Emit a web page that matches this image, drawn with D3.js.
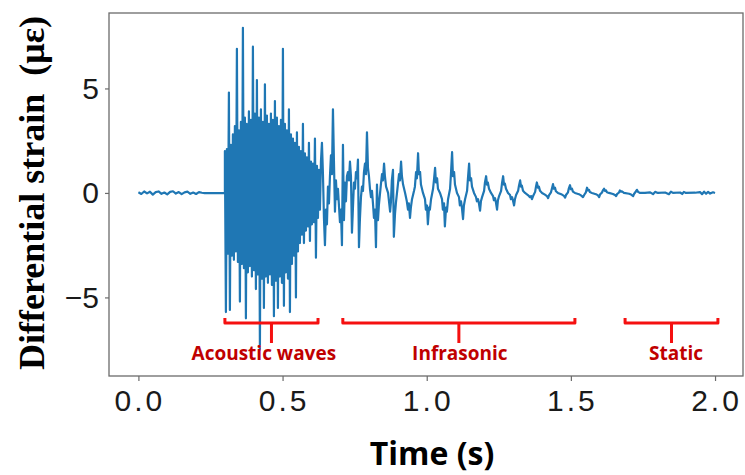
<!DOCTYPE html>
<html>
<head>
<meta charset="utf-8">
<script src="https://cdn.jsdelivr.net/npm/d3@7"></script>
<style>
  body { margin: 0; background: #fff; }
</style>
</head>
<body>
<div class="box"></div>
<script>
// ---- donnees ----

// bruit avant l'evenement [temps (s), deformation (µε)]
const quiet = [
  [0.000, 0.03], [0.010, -0.05], [0.020, 0.07], [0.030, -0.02], [0.040, 0.06],
  [0.050, -0.08], [0.060, 0.04], [0.070, 0.07], [0.080, -0.04], [0.090, 0.02],
  [0.100, -0.07], [0.110, 0.05], [0.120, 0.08], [0.130, -0.03], [0.140, 0.04],
  [0.150, -0.06], [0.160, 0.03], [0.170, 0.06], [0.180, -0.04], [0.190, 0.02],
  [0.200, -0.05], [0.210, 0.04], [0.220, 0.01], [0.230, -0.01], [0.300, 0.00]
];

// salve acoustique echantillonnee a pas constant
const burstStart = 0.300;
const burstStep = 0.00347;
const burstStrain = [
  2.0, -5.7, 2.1, -2.9, 4.8, -5.6, 2.3, -3.0, 2.8, -3.2,
  3.2, -2.8, 6.9, -3.3, 3.0, -5.2, 3.4, -3.4, 7.9, -3.6,
  3.6, -6.0, 3.3, -3.8, 3.9, -3.5, 3.5, -4.0, 7.0, -3.7,
  3.8, -4.6, 5.4, -3.9, 3.6, -7.5, 4.0, -4.1, 3.4, -5.5,
  5.2, -4.0, 3.7, -4.3, 3.3, -3.9, 3.8, -4.4, 3.5, -5.9,
  4.4, -4.2, 3.6, -5.5, 3.2, -4.0, 3.5, -4.3, 6.9, -5.4,
  3.3, -3.8, 3.0, -4.1, 4.0, -5.7, 2.8, -3.4, 2.6, -3.0,
  2.4, -5.0, 2.9, -2.8, 2.2, -2.4, 2.0, -2.0, 3.3, -2.4,
  1.9, -1.8, 1.7, -1.6, 2.4, -2.3, 1.5, -1.5, 1.4, -1.4,
  2.6, -3.1, 1.3, -1.2, 1.1,
  -0.8, 1.5, 2.4, 0.9, -1.2, -2.5, -0.8, -1.5, 0.3, -0.5,
  0.8, 1.8, 0.9, 4.0, 1.5, -0.9, 0.6, -0.3, 0.2, -0.6,
  -1.4, -0.8, -2.5, 2.3, -1.3, 0.5, -0.4, 0.8, 1.0, 0.6,
  1.5, 0.8, -1.9, -0.7, 0.5, 0.2, 1.0, 0.7, 1.6, -2.6,
  -1.2, -0.2, 0.3, 0.1, 1.0, 1.4, 0.9, 2.9, 1.2, 0.8,
  0.2, -0.2, 0.1, -0.5, -1.2, -0.8, -2.6, 0.4, -1.3
];

// oscillations infrasonores puis statique [temps (s), deformation (µε)]
const decay = [
  [0.834, -0.6], [0.841, 0.4], [0.845, 0.9], [0.848, 0.6], [0.852, 1.4], [0.855, 0.8],
  [0.859, 0.3], [0.866, 0.0], [0.873, -0.9], [0.876, -0.4], [0.879, 0.6], [0.883, 1.1],
  [0.886, -2.1], [0.890, -1.0], [0.893, -0.5], [0.900, 0.4], [0.904, 0.9], [0.907, 0.6],
  [0.911, 1.5], [0.914, 0.8], [0.918, 0.4], [0.925, 0.0], [0.931, -0.4], [0.935, -0.8],
  [0.938, -0.5], [0.942, -1.2], [0.945, -0.7], [0.949, -0.3], [0.956, 0.1], [0.959, 0.3],
  [0.963, 1.0], [0.966, 0.7], [0.970, 1.9], [0.973, 0.9], [0.977, 1.0], [0.980, 0.4],
  [0.987, 0.0], [0.994, -0.3], [0.997, -0.8], [1.001, -0.6], [1.004, -1.5], [1.008, -0.7],
  [1.011, -0.8], [1.015, -0.3], [1.022, 0.2], [1.025, 0.6], [1.029, 1.2], [1.032, 0.5],
  [1.036, 0.7], [1.039, 0.2], [1.046, 0.0], [1.053, -0.3], [1.056, -0.8], [1.060, -0.5],
  [1.063, -1.6], [1.067, -0.7], [1.070, -0.9], [1.074, -0.3], [1.081, 0.2], [1.084, 0.9],
  [1.088, 1.95], [1.091, 0.8], [1.095, 1.0], [1.098, 0.4], [1.105, 0.0], [1.112, -0.2],
  [1.115, -0.6], [1.119, -0.4], [1.122, -0.7], [1.126, -1.25], [1.129, -0.6], [1.133, -0.3],
  [1.140, 0.1], [1.143, 0.7], [1.147, 1.4], [1.150, 0.6], [1.154, 0.7], [1.157, 0.3],
  [1.164, 0.0], [1.171, -0.2], [1.174, -0.4], [1.178, -0.3], [1.181, -0.5], [1.185, -0.85],
  [1.188, -0.4], [1.192, -0.2], [1.199, 0.1], [1.202, 0.5], [1.206, 0.8], [1.209, 0.4],
  [1.212, 0.5], [1.216, 0.2], [1.223, 0.0], [1.230, -0.15], [1.233, -0.35], [1.237, -0.25],
  [1.240, -0.45], [1.244, -0.8], [1.247, -0.35], [1.251, -0.15], [1.258, 0.1], [1.261, 0.45],
  [1.265, 0.8], [1.268, 0.4], [1.271, 0.45], [1.275, 0.2], [1.282, 0.0], [1.289, -0.1],
  [1.292, -0.3], [1.296, -0.2], [1.299, -0.35], [1.303, -0.6], [1.306, -0.3], [1.310, -0.1],
  [1.317, 0.1], [1.320, 0.35], [1.324, 0.6], [1.327, 0.3], [1.330, 0.35], [1.334, 0.1],
  [1.341, 0.0], [1.351, -0.1], [1.358, -0.2], [1.362, -0.15], [1.365, -0.3], [1.369, -0.15],
  [1.376, 0.05], [1.379, 0.3], [1.382, 0.5], [1.386, 0.25], [1.389, 0.3], [1.393, 0.1],
  [1.400, 0.0], [1.410, -0.08], [1.417, -0.15], [1.421, -0.25], [1.424, -0.12], [1.431, 0.03],
  [1.435, 0.25], [1.438, 0.42], [1.441, 0.2], [1.445, 0.25], [1.448, 0.08], [1.455, 0.0],
  [1.469, -0.08], [1.476, -0.14], [1.480, -0.22], [1.483, -0.1], [1.490, 0.03], [1.493, 0.22],
  [1.497, 0.37], [1.500, 0.18], [1.504, 0.2], [1.507, 0.06], [1.514, 0.0], [1.528, -0.06],
  [1.535, -0.12], [1.542, -0.2], [1.546, -0.1], [1.552, 0.03], [1.556, 0.25], [1.559, 0.12],
  [1.563, 0.15], [1.566, 0.04], [1.573, 0.0], [1.587, -0.06], [1.594, -0.12], [1.598, -0.2],
  [1.601, -0.08], [1.608, 0.02], [1.611, 0.12], [1.615, 0.2], [1.618, 0.1], [1.622, 0.12],
  [1.625, 0.03], [1.632, 0.0], [1.646, -0.05], [1.653, -0.1], [1.657, -0.15], [1.660, -0.06],
  [1.667, 0.02], [1.670, 0.12], [1.674, 0.06], [1.677, 0.08], [1.684, 0.0], [1.702, -0.04],
  [1.709, -0.08], [1.716, -0.15], [1.719, -0.05], [1.726, 0.08], [1.729, 0.15], [1.733, 0.05],
  [1.740, 0.0], [1.757, 0.0], [1.775, 0.03], [1.785, -0.06], [1.792, 0.05], [1.802, 0.0],
  [1.827, 0.02], [1.840, -0.06], [1.847, 0.06], [1.854, 0.0], [1.879, 0.02], [1.886, -0.05],
  [1.892, 0.05], [1.899, 0.0], [1.931, 0.01], [1.948, 0.04], [1.955, -0.06], [1.962, 0.06],
  [1.969, -0.04], [1.976, 0.05], [1.983, -0.03], [1.993, 0.03], [2.000, 0.0]
];

const xTicks = [0, 0.5, 1.0, 1.5, 2.0];
const yTicks = [-5, 0, 5];

// phases annotees sous la courbe
const phases = [
  {label: 'Acoustic waves', from: 0.300, to: 0.623, labelAt: 0.435},
  {label: 'Infrasonic', from: 0.709, to: 1.514, labelAt: 1.115},
  {label: 'Static', from: 1.688, to: 2.010, labelAt: 1.865}
];

// ---- mise en page ----
const dims = {width: 745, height: 475, left: 109, top: 13, plotW: 634, plotH: 363};

const svg = d3.select('.box')
              .append('svg')
              .attr('width', dims.width)
              .attr('height', dims.height);

const graph = svg.append('g')
                 .attr('transform', `translate(${dims.left}, ${dims.top})`);

const x = d3.scaleLinear().domain([-0.102, 2.097]).range([0, dims.plotW]);
const y = d3.scaleLinear().domain([-8.76, 8.61]).range([dims.plotH, 0]);

// signal complet
const signal = [
  ...quiet.map(d => ({t: d[0], v: d[1]})),
  ...burstStrain.map((v, i) => ({t: burstStart + i * burstStep, v: v})),
  ...decay.map(d => ({t: d[0], v: d[1]}))
];

const line = d3.line()
               .x(d => x(d.t))
               .y(d => y(d.v));

graph.append('path')
     .datum(signal)
     .attr('d', line)
     .attr('fill', 'none')
     .attr('stroke', '#1f77b4')
     .attr('stroke-width', 2.2)
     .attr('stroke-linejoin', 'round');

// axes
const axisColor = '#6b6b6b';

const xAxis = graph.append('g')
                   .attr('transform', `translate(0, ${dims.plotH})`)
                   .call(d3.axisBottom(x)
                           .tickValues(xTicks)
                           .tickFormat(d3.format('.1f'))
                           .tickSize(5)
                           .tickPadding(9));

const yAxis = graph.append('g')
                   .call(d3.axisLeft(y)
                           .tickValues(yTicks)
                           .tickFormat(d3.format('d'))
                           .tickSize(4)
                           .tickPadding(6));

[xAxis, yAxis].forEach(a => {
  a.select('.domain').remove();
  a.selectAll('.tick line').attr('stroke', axisColor).attr('stroke-width', 1.2);
  a.selectAll('.tick text')
   .attr('fill', '#1a1a1a')
   .style('font-family', '"Liberation Sans", Arial, sans-serif')
   .style('font-size', '30px');
});

xAxis.selectAll('.tick text')
     .style('letter-spacing', '3px')
     .attr('dx', 1);

// cadre
graph.append('rect')
     .attr('width', dims.plotW)
     .attr('height', dims.plotH)
     .attr('fill', 'none')
     .attr('stroke', axisColor)
     .attr('stroke-width', 1.3);

// accolades rouges
const bracketTop = -5.98, bracketLine = -6.22, stemEnd = -7.18, labelBase = -7.99;

phases.forEach(p => {
  const mid = (p.from + p.to) / 2;
  graph.append('path')
       .attr('d', `M${x(p.from)},${y(bracketTop)} L${x(p.from)},${y(bracketLine)} L${x(p.to)},${y(bracketLine)} L${x(p.to)},${y(bracketTop)} M${x(mid)},${y(bracketLine)} L${x(mid)},${y(stemEnd)}`)
       .attr('fill', 'none')
       .attr('stroke', '#f51010')
       .attr('stroke-width', 3)
       .attr('stroke-linejoin', 'round');

  graph.append('text')
       .attr('x', x(p.labelAt))
       .attr('y', y(labelBase))
       .attr('text-anchor', 'middle')
       .attr('fill', '#c00000')
       .style('font-family', '"Open Sans", sans-serif')
       .style('font-weight', 'bold')
       .style('font-size', '19px')
       .text(p.label);
});

// titres des axes
svg.append('text')
   .attr('transform', `translate(44, 193) rotate(-90)`)
   .attr('text-anchor', 'middle')
   .attr('fill', '#000')
   .style('font-family', '"Liberation Serif", "Times New Roman", serif')
   .style('font-weight', 'bold')
   .style('font-size', '36px')
   .style('white-space', 'pre')
   .text('Differential strain  (με)');

svg.append('text')
   .attr('x', 432)
   .attr('y', 465)
   .attr('text-anchor', 'middle')
   .attr('fill', '#000')
   .style('font-family', '"Open Sans", sans-serif')
   .style('font-weight', 'bold')
   .style('font-size', '32px')
   .text('Time (s)');
</script>
</body>
</html>
